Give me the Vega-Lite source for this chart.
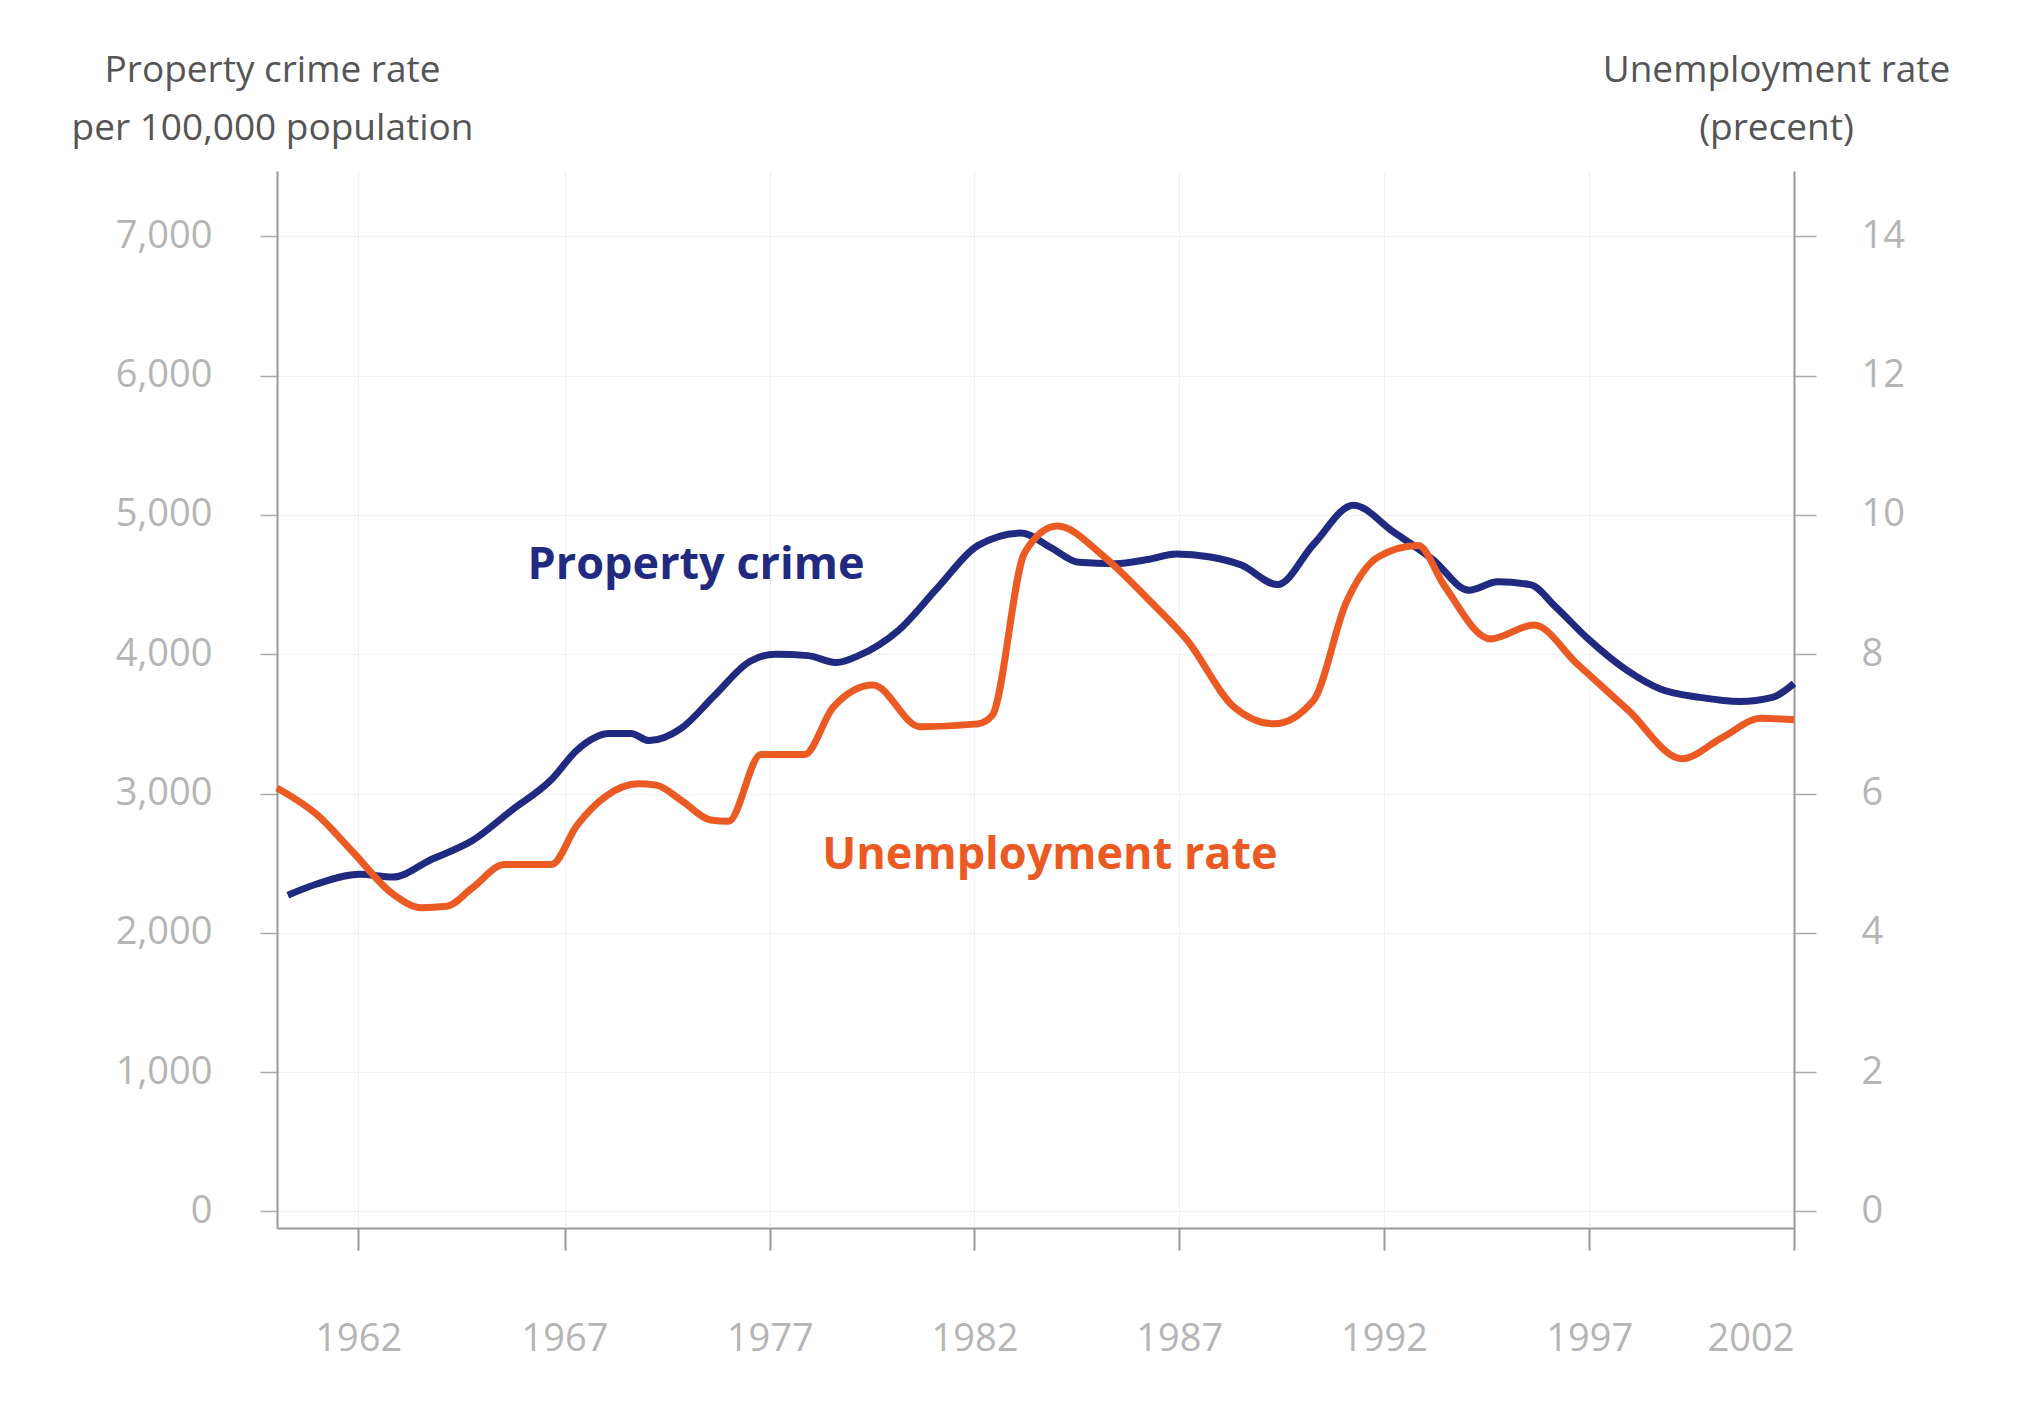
{
"$schema":"https://vega.github.io/schema/vega-lite/v6.json",
"width":1517,"height":1057,
"autosize":{"type":"none"},
"padding":{"left":277,"top":171,"right":242,"bottom":188},
"background":"white",
"config":{"font":"Open Sans","view":{"stroke":null}},
"datasets":{
"crime":[{"year":1960.3,"v":2270},{"year":1961.1,"v":2350},{"year":1962.3,"v":2420},{"year":1963.2,"v":2400},{"year":1964.3,"v":2530},{"year":1965.4,"v":2660},{"year":1966.5,"v":2880},{"year":1967.6,"v":3100},{"year":1968.3,"v":3310},{"year":1969.2,"v":3430},{"year":1969.8,"v":3430},{"year":1970.3,"v":3380},{"year":1971.2,"v":3470},{"year":1972.1,"v":3700},{"year":1973.1,"v":3950},{"year":1973.8,"v":4000},{"year":1974.7,"v":3990},{"year":1975.5,"v":3940},{"year":1976.1,"v":3990},{"year":1977.2,"v":4170},{"year":1978.3,"v":4480},{"year":1979.4,"v":4780},{"year":1980.6,"v":4870},{"year":1981.4,"v":4770},{"year":1982.2,"v":4660},{"year":1983.2,"v":4650},{"year":1984.1,"v":4680},{"year":1984.9,"v":4720},{"year":1985.8,"v":4700},{"year":1986.7,"v":4640},{"year":1987.7,"v":4500},{"year":1988.7,"v":4790},{"year":1989.8,"v":5070},{"year":1990.9,"v":4880},{"year":1992.0,"v":4680},{"year":1993.0,"v":4460},{"year":1993.8,"v":4520},{"year":1994.7,"v":4500},{"year":1995.4,"v":4340},{"year":1996.3,"v":4110},{"year":1997.4,"v":3880},{"year":1998.3,"v":3750},{"year":1999.4,"v":3690},{"year":2000.5,"v":3660},{"year":2001.4,"v":3690},{"year":2002,"v":3790}],
"unemp":[{"year":1960,"u":6.08},{"year":1961.1,"u":5.7},{"year":1962.1,"u":5.16},{"year":1963.2,"u":4.56},{"year":1964.0,"u":4.36},{"year":1964.7,"u":4.38},{"year":1965.4,"u":4.64},{"year":1966.3,"u":4.98},{"year":1967.6,"u":4.98},{"year":1968.3,"u":5.54},{"year":1969.1,"u":5.96},{"year":1970.0,"u":6.14},{"year":1970.5,"u":6.12},{"year":1971.2,"u":5.9},{"year":1972.0,"u":5.62},{"year":1972.5,"u":5.6},{"year":1973.4,"u":6.56},{"year":1974.6,"u":6.56},{"year":1975.4,"u":7.24},{"year":1976.5,"u":7.56},{"year":1977.8,"u":6.96},{"year":1979.4,"u":7.0},{"year":1979.8,"u":7.12},{"year":1980.7,"u":9.46},{"year":1981.6,"u":9.84},{"year":1982.9,"u":9.4},{"year":1984.1,"u":8.8},{"year":1985.2,"u":8.2},{"year":1986.5,"u":7.24},{"year":1987.6,"u":7.0},{"year":1988.7,"u":7.34},{"year":1989.6,"u":8.74},{"year":1990.5,"u":9.4},{"year":1991.6,"u":9.56},{"year":1992.3,"u":9.0},{"year":1993.6,"u":8.22},{"year":1994.8,"u":8.42},{"year":1996.0,"u":7.86},{"year":1997.4,"u":7.2},{"year":1998.9,"u":6.5},{"year":2000.0,"u":6.8},{"year":2001.1,"u":7.08},{"year":2002,"u":7.06}],
"labels":[{"year":1971.6,"v":4640,"t":"Property crime","c":"#1f2a80"},{"year":1981.4,"v":2560,"t":"Unemployment rate","c":"#ec5a24"}]
},
"resolve":{"scale":{"y":"independent"}},
"layer":[
{"data":{"name":"crime"},"mark":{"type":"line","color":"#1f2a80","strokeWidth":7,"interpolate":"monotone"},
"encoding":{
"x":{"field":"year","type":"quantitative","scale":{"domain":[1960,2002],"nice":false,"zero":false},
"axis":{"values":[1962.25,1967.96,1973.64,1979.31,1984.98,1990.65,1996.33,2002],
"labelExpr":"datum.value<1965?'1962':datum.value<1970?'1967':datum.value<1976?'1977':datum.value<1982?'1982':datum.value<1988?'1987':datum.value<1993?'1992':datum.value<1999?'1997':'2002'",
"title":null,"grid":true,"gridColor":"#f0f0f0","domainColor":"#999","domainWidth":2,"tickColor":"#999","tickWidth":2,"tickSize":22,"labelPadding":70,"labelFont":"Open Sans","labelFontSize":38,"labelColor":"#b5b5b5"}},
"y":{"field":"v","type":"quantitative","scale":{"domain":[-120,7470],"nice":false,"zero":false},
"axis":{"values":[0,1000,2000,3000,4000,5000,6000,7000],"format":",.0f","grid":true,"gridColor":"#f0f0f0","domainColor":"#999","domainWidth":2,"tickColor":"#aaa","tickWidth":1.5,"tickSize":17,"labelPadding":48,"labelFont":"Open Sans","labelFontSize":38,"labelColor":"#b5b5b5",
"title":["Property crime rate","per 100,000 population"],"titleAngle":0,"titleX":-5,"titleY":-90,"titleAlign":"center","titleBaseline":"alphabetic","titleFont":"Open Sans","titleFontWeight":"normal","titleFontSize":37,"titleColor":"#555","titleLineHeight":58}}}},
{"data":{"name":"unemp"},"mark":{"type":"line","color":"#ec5a24","strokeWidth":7,"interpolate":"monotone"},
"encoding":{
"x":{"field":"year","type":"quantitative"},
"y":{"field":"u","type":"quantitative","scale":{"domain":[-0.24,14.94],"nice":false,"zero":false},
"axis":{"orient":"right","values":[0,2,4,6,8,10,12,14],"grid":false,"domainColor":"#999","domainWidth":2,"tickColor":"#aaa","tickWidth":1.5,"tickSize":22,"labelPadding":45,"labelFont":"Open Sans","labelFontSize":38,"labelColor":"#b5b5b5",
"title":["Unemployment rate","(precent)"],"titleAngle":0,"titleX":-18,"titleY":-90,"titleAlign":"center","titleBaseline":"alphabetic","titleFont":"Open Sans","titleFontWeight":"normal","titleFontSize":37,"titleColor":"#555","titleLineHeight":58}}}},
{"data":{"name":"labels"},"mark":{"type":"text","font":"Open Sans","fontSize":45,"fontWeight":"bold","align":"center","baseline":"middle"},
"encoding":{"x":{"field":"year","type":"quantitative"},"y":{"field":"v","type":"quantitative","scale":{"domain":[-120,7470]},"axis":null},"text":{"field":"t"},"color":{"field":"c","type":"nominal","scale":null}}}
]
}
